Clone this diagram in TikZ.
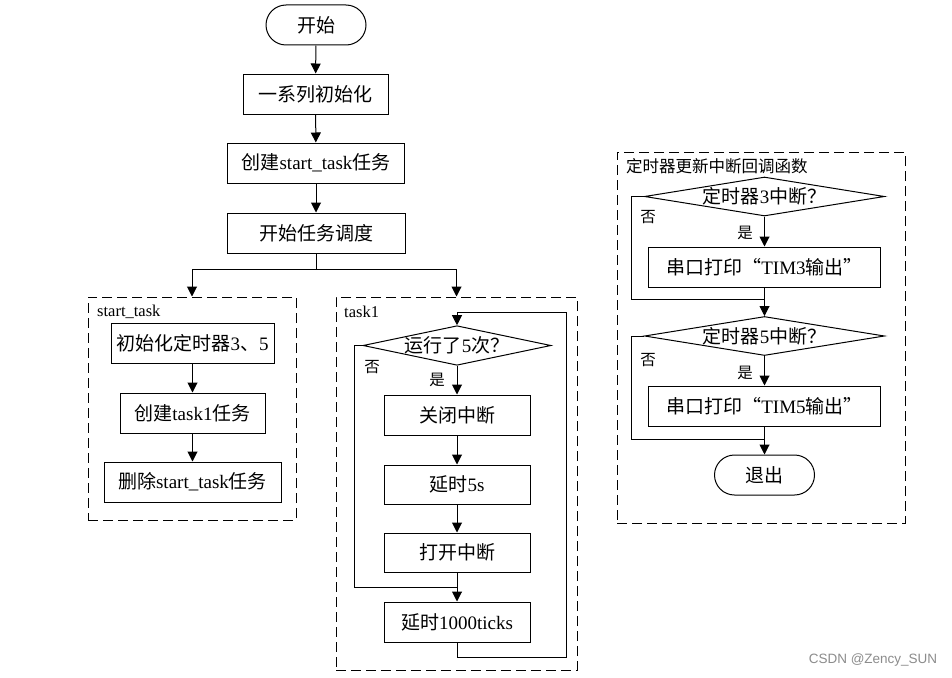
\documentclass[tikz,border=0pt]{standalone}
\usepackage{fontspec}
\setmainfont{Liberation Serif}
\newfontfamily\cjk{Noto Sans CJK SC}
\newfontfamily\wmfont{Liberation Sans}
\newcommand\zh[1]{{\cjk #1}}
\usetikzlibrary{arrows.meta,shapes.geometric,shapes.misc}
\begin{document}
\begin{tikzpicture}[x=1pt,y=-1pt,
  every node/.style={inner sep=0pt},
  txt/.style={font=\fontsize{19}{21}\selectfont},
  procbox/.style={txt,draw,line width=1pt,minimum height=40pt},
  termbox/.style={txt,draw,line width=1pt,rounded rectangle,minimum width=100pt,minimum height=40pt},
  decbox/.style={txt,draw,line width=1pt,diamond,minimum height=39pt},
  grpbox/.style={draw,line width=1pt,dash pattern=on 10pt off 5pt},
  grplabel/.style={anchor=west,font=\fontsize{16.5}{18}\selectfont},
  yn/.style={font=\fontsize{15.5}{17}\selectfont},
  line/.style={line width=1pt},
  arr/.style={line width=1pt,-{Triangle[length=10pt,width=10pt]}}]
\useasboundingbox (0,0) rectangle (952,677);
\fill[white] (0,0) rectangle (952,677);

% main column
\node[termbox] (start) at (316,25) {\zh{开始}};
\node[procbox,minimum width=145pt] (init) at (315.5,94) {\zh{一系列初始化}};
\node[procbox,minimum width=177pt] (create) at (316,163) {\zh{创建}start\_task\zh{任务}};
\node[procbox,minimum width=178pt] (sched) at (316,233) {\zh{开始任务调度}};

% group boxes
\node[grpbox,minimum width=208pt,minimum height=223pt] (stbox) at (192,408.5) {};
\node[grpbox,minimum width=241pt,minimum height=373pt] (t1box) at (456.5,483.5) {};
\node[grpbox,minimum width=288pt,minimum height=371pt] (rbox) at (761,337.5) {};
\node[grplabel] (stlab) at (97,312) {start\_task};
\node[grplabel] (t1lab) at (344,312) {task1};
\node[grplabel] (rlab) at (626,166) {\zh{定时器更新中断回调函数}};

% start_task
\node[procbox,minimum width=163pt] (ti) at (192.5,343) {\zh{初始化定时器}3\zh{、}5};
\node[procbox,minimum width=145pt] (ct) at (192.5,413) {\zh{创建}task1\zh{任务}};
\node[procbox,minimum width=177pt] (dt) at (192.5,482) {\zh{删除}start\_task\zh{任务}};

% task1
\node[decbox,aspect=4.75,minimum width=185pt] (dia) at (457,345.5) {\zh{运行了}5\zh{次？}};
\node[procbox,minimum width=146pt] (off) at (457,415) {\zh{关闭中断}};
\node[procbox,minimum width=146pt,minimum height=39pt] (d5) at (457,484.5) {\zh{延时}5s};
\node[procbox,minimum width=146pt,minimum height=39pt] (on) at (457,552.5) {\zh{打开中断}};
\node[procbox,minimum width=146pt] (dk) at (457,622) {\zh{延时}1000ticks};
\node[yn] (no1) at (372,367) {\zh{否}};
\node[yn] (yes1) at (437,380) {\zh{是}};

% right
\node[decbox,aspect=6.15,minimum width=240pt] (r1) at (764.5,196.5) {\zh{定时器}3\zh{中断？}};
\node[procbox,minimum width=232pt] (p3) at (764.5,267) {\zh{串口打印“}TIM3\zh{输出”}};
\node[decbox,aspect=6.15,minimum width=240pt] (r2) at (764.5,336) {\zh{定时器}5\zh{中断？}};
\node[procbox,minimum width=232pt] (p5) at (764.5,406) {\zh{串口打印“}TIM5\zh{输出”}};
\node[termbox] (ex) at (764.5,475) {\zh{退出}};
\node[yn] (no2) at (648,217) {\zh{否}};
\node[yn] (yes2) at (745,233) {\zh{是}};
\node[yn] (no3) at (648,360) {\zh{否}};
\node[yn] (yes3) at (745,373) {\zh{是}};

% watermark
\node[font=\wmfont\fontsize{13.5}{15}\selectfont,text=black!45] (wm) at (873,660) {CSDN @Zency\_SUN};

% coordinates
\coordinate (split) at (316,269);
\coordinate (lt) at (566,312);
\coordinate (lb) at (566,657);
\coordinate (nl1) at (354,587);
\coordinate (nl2) at (631,299);
\coordinate (nl3) at (631,439);

% connectors main
\draw[arr] (start) -- (init);
\draw[arr] (init) -- (create);
\draw[arr] (create) -- (sched);
\draw[line] (sched) -- (split);
\draw[arr] (split) -| (stbox);
\draw[arr] (split) -| (t1box);

% start_task
\draw[arr] (ti) -- (ct);
\draw[arr] (ct) -- (dt);

% task1
\draw[arr] (dia) -- (off);
\draw[arr] (off) -- (d5);
\draw[arr] (d5) -- (on);
\draw[arr] (on) -- (dk);
\draw[line] (dia.west) -| (nl1) -- (nl1 -| on.south);
\draw[arr] (dk.south) |- (lb) -- (lt) -- (dia.north |- lt) -- (dia.north);

% right
\draw[arr] (r1) -- (p3);
\draw[arr] (p3) -- (r2);
\draw[line] (r1.west) -| (nl2) -- (nl2 -| p3.south);
\draw[arr] (r2) -- (p5);
\draw[arr] (p5) -- (ex);
\draw[line] (r2.west) -| (nl3) -- (nl3 -| p5.south);
\end{tikzpicture}
\end{document}
